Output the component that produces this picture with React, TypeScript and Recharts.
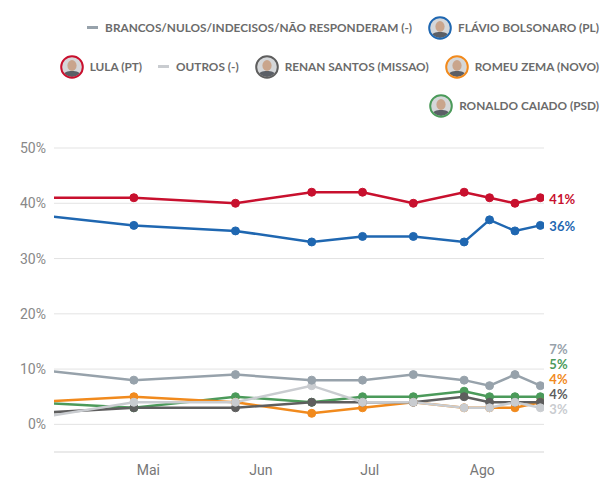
import React from "react";
import { LineChart, Line, XAxis, YAxis, CartesianGrid } from "recharts";

// poll dates (first one sits left of the visible range)
const dates = [
  "2026-03-30", "2026-04-27", "2026-05-25", "2026-06-15", "2026-06-29",
  "2026-07-13", "2026-07-27", "2026-08-03", "2026-08-10", "2026-08-17",
];

const brancos = [10, 8, 9, 8, 8, 9, 8, 7, 9, 7];
const flavio = [38, 36, 35, 33, 34, 34, 33, 37, 35, 36];
const lula = [41, 41, 40, 42, 42, 40, 42, 41, 40, 41];
const outros = [1, 4, 4, 7, 4, 4, 3, 3, 4, 3];
const renan = [2, 3, 3, 4, 4, 4, 5, 4, 4, 4];
const romeu = [4, 5, 4, 2, 3, 4, 3, 3, 3, 4];
const ronaldo = [4, 3, 5, 4, 5, 5, 6, 5, 5, 5];

const monthTicks = ["2026-05-01", "2026-06-01", "2026-07-01", "2026-08-01"];
const monthLabels = ["Mai", "Jun", "Jul", "Ago"];
const yTicks = [0, 10, 20, 30, 40, 50];
const xRange = ["2026-04-05", "2026-08-18"];

type Serie = { key: string; name: string; color: string; values: number[]; avatar: boolean };

const series: Serie[] = [
  { key: "brancos", name: "BRANCOS/NULOS/INDECISOS/NÃO RESPONDERAM (-)", color: "#97a2ab", values: brancos, avatar: false },
  { key: "flavio", name: "FLÁVIO BOLSONARO (PL)", color: "#1f67b1", values: flavio, avatar: true },
  { key: "lula", name: "LULA (PT)", color: "#c8102e", values: lula, avatar: true },
  { key: "outros", name: "OUTROS (-)", color: "#c9ccd0", values: outros, avatar: false },
  { key: "renan", name: "RENAN SANTOS (MISSAO)", color: "#5e5e5e", values: renan, avatar: true },
  { key: "romeu", name: "ROMEU ZEMA (NOVO)", color: "#f18a1d", values: romeu, avatar: true },
  { key: "ronaldo", name: "RONALDO CAIADO (PSD)", color: "#4b9a5a", values: ronaldo, avatar: true },
];

const toDay = (s: string) => {
  const [y, m, d] = s.split("-").map(Number);
  return Date.UTC(y, m - 1, d) / 86400000;
};

const data = dates.map((d, i) => {
  const row: Record<string, number> = { day: toDay(d) };
  series.forEach((s) => (row[s.key] = s.values[i]));
  return row;
});

const W = 610;
const H = 485;
const TOP = 148;
const XAXIS_H = 30;
const BOTTOM = 3;
const Y_MIN = -5;
const Y_MAX = 50;
const pxPerUnit = (H - TOP - XAXIS_H - BOTTOM) / (Y_MAX - Y_MIN);

// stack end labels so they don't overlap (15px apart)
const labelShift: Record<string, number> = {};
{
  const last = series.map((s, i) => ({ key: s.key, v: s.values[s.values.length - 1], i }));
  last.sort((a, b) => a.v - b.v || a.i - b.i);
  const gap = 15 / pxPerUnit;
  let prev = -Infinity;
  last.forEach((l) => {
    const pos = Math.max(l.v, prev + gap);
    labelShift[l.key] = -(pos - l.v) * pxPerUnit;
    prev = pos;
  });
}

const Avatar = ({ color }: { color: string }) => (
  <svg width={24} height={24} viewBox="0 0 24 24" style={{ display: "block" }}>
    <defs>
      <clipPath id={"av" + color.slice(1)}>
        <circle cx={12} cy={12} r={10} />
      </clipPath>
    </defs>
    <g clipPath={`url(#av${color.slice(1)})`}>
      <rect x={0} y={0} width={24} height={24} fill="#d5d7d9" />
      <ellipse cx={12} cy={10.5} rx={4.6} ry={5.4} fill="#c9a58c" />
      <path d="M2 24 C3 17 7 16 12 16 C17 16 21 17 22 24 Z" fill="#5b5f66" />
    </g>
    <circle cx={12} cy={12} r={10.8} fill="none" stroke={color} strokeWidth={2} />
  </svg>
);

const LegendBox = () => (
  <div
    style={{
      position: "absolute",
      left: 0,
      top: 8,
      width: W,
      boxSizing: "border-box",
      paddingLeft: 10,
      paddingRight: 11,
      display: "flex",
      flexWrap: "wrap",
      justifyContent: "flex-end",
      columnGap: 16,
      fontFamily: "Lato, sans-serif",
      fontWeight: 700,
      fontSize: 11.8,
      color: "#6b6b6b",
    }}
  >
    {series.map((s) => (
      <div key={s.key} style={{ display: "flex", alignItems: "center", height: 39, whiteSpace: "nowrap" }}>
        {s.avatar ? (
          <Avatar color={s.color} />
        ) : (
          <div style={{ width: 11, height: 3, background: s.color }} />
        )}
        <span style={{ marginLeft: s.avatar ? 6 : 7 }}>{s.name}</span>
      </div>
    ))}
  </div>
);

const makeEndLabel = (s: Serie) => (props: any) => {
  const { x, y, index, value } = props;
  if (index !== s.values.length - 1) return null;
  return (
    <text
      x={x + 9}
      y={y + labelShift[s.key] + 1}
      fill={s.color}
      fontFamily="Lato, sans-serif"
      fontWeight={700}
      fontSize={13}
      dominantBaseline="central"
    >
      {value}%
    </text>
  );
};

const App: React.FC = () => {
  const drawOrder = [...series].reverse();
  return (
    <div style={{ position: "absolute", left: 0, top: 0, width: W, height: H, background: "#fff" }}>
      <LegendBox />
      <div style={{ position: "absolute", left: 0, top: 0 }}>
        <LineChart width={W} height={H} data={data} margin={{ top: TOP, right: 66, left: 0, bottom: BOTTOM }}>
          <CartesianGrid vertical={false} stroke="#e3e3e3" />
          <XAxis
            dataKey="day"
            type="number"
            domain={[toDay(xRange[0]), toDay(xRange[1])]}
            allowDataOverflow
            ticks={monthTicks.map(toDay)}
            tickFormatter={(v: number) => monthLabels[monthTicks.map(toDay).indexOf(v)]}
            height={XAXIS_H}
            tickLine={false}
            tickMargin={7}
            axisLine={{ stroke: "#e3e3e3" }}
            tick={{ fill: "#777", fontSize: 14, fontFamily: "Roboto, sans-serif" }}
          />
          <YAxis
            type="number"
            domain={[Y_MIN, Y_MAX]}
            ticks={yTicks}
            width={54}
            tickLine={false}
            axisLine={false}
            tickFormatter={(v: number) => `${v}%`}
            tick={{ fill: "#888", fontSize: 14, fontFamily: "Roboto, sans-serif" }}
          />
          {drawOrder.map((s) => (
            <Line
              key={s.key}
              dataKey={s.key}
              stroke={s.color}
              strokeWidth={2.5}
              dot={{ r: 4, fill: s.color, stroke: s.color, strokeWidth: 1 }}
              isAnimationActive={false}
              label={makeEndLabel(s)}
            />
          ))}
        </LineChart>
      </div>
    </div>
  );
};

export default App;
